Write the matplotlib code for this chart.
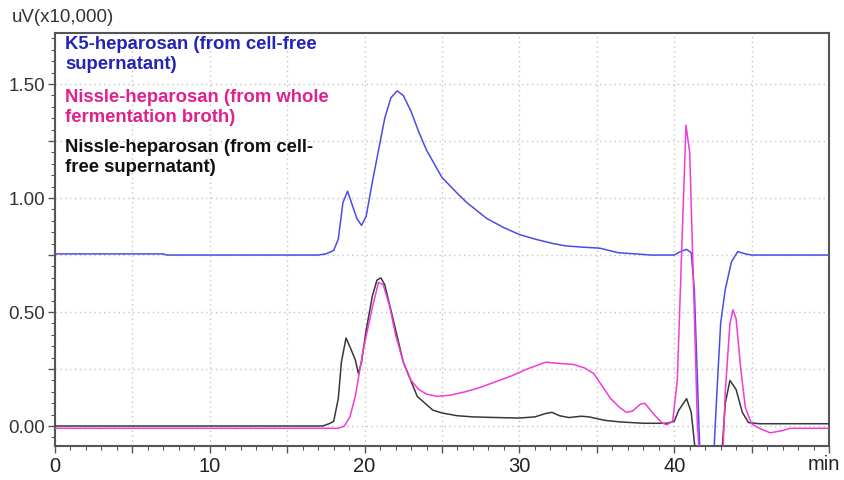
import matplotlib
matplotlib.use("Agg")
import matplotlib.pyplot as plt
from matplotlib.ticker import MultipleLocator, FuncFormatter

# retention time (min) / signal (uV x10,000)
k5_time = [0, 7, 7.2, 17.0, 17.5, 18.0, 18.3, 18.6, 18.9, 19.2, 19.5, 19.8, 20.1, 20.5, 20.9,
           21.3, 21.7, 22.1, 22.5, 23.0, 23.5, 24.0, 24.5, 25.0, 26.0, 26.6, 27.9, 29.0,
           30.0, 31.0, 32.2, 33.0, 34.0, 35.2, 36.4, 37.5, 38.5, 40.0, 40.4, 40.8, 41.1,
           41.3, 41.5, 41.7, 42.5, 42.8, 43.0, 43.3, 43.7, 44.1, 44.6, 45.0, 50.0]
k5_signal = [0.755, 0.755, 0.75, 0.75, 0.755, 0.77, 0.82, 0.98, 1.03, 0.97, 0.91, 0.88, 0.92,
             1.07, 1.21, 1.35, 1.44, 1.47, 1.45, 1.38, 1.29, 1.21, 1.15, 1.09, 1.02, 0.98,
             0.91, 0.87, 0.84, 0.82, 0.80, 0.79, 0.785, 0.78, 0.76, 0.755, 0.75, 0.75, 0.765,
             0.775, 0.76, 0.60, 0.20, -0.20, -0.20, 0.20, 0.45, 0.60, 0.72, 0.765, 0.755,
             0.75, 0.75]

broth_time = [0, 18.3, 18.7, 19.05, 19.4, 19.9, 20.5, 20.9, 21.2, 21.6, 22.0, 22.5, 23.0,
              23.5, 24.0, 24.7, 25.5, 26.5, 27.5, 28.5, 29.5, 30.5, 31.3, 31.7, 32.5, 33.5,
              34.2, 34.8, 35.2, 35.9, 36.5, 36.9, 37.3, 37.8, 38.1, 38.7, 39.2, 39.5, 39.9,
              40.2, 40.5, 40.76, 41.0, 41.3, 41.5, 41.7, 43.1, 43.3, 43.6, 43.8, 44.0, 44.3,
              44.6, 45.0, 45.5, 46.2, 47.0, 47.5, 50.0]
broth_signal = [-0.01, -0.01, 0.0, 0.04, 0.13, 0.33, 0.52, 0.63, 0.62, 0.53, 0.40, 0.28,
                0.20, 0.16, 0.14, 0.13, 0.135, 0.15, 0.17, 0.195, 0.22, 0.25, 0.27, 0.28,
                0.275, 0.27, 0.255, 0.23, 0.19, 0.12, 0.08, 0.06, 0.065, 0.095, 0.10, 0.05,
                0.015, 0.005, 0.02, 0.20, 0.80, 1.32, 1.20, 0.50, 0.0, -0.20, -0.20, 0.15,
                0.45, 0.51, 0.47, 0.25, 0.08, 0.01, -0.01, -0.03, -0.02, -0.01, -0.01]

sup_time = [0, 17.3, 17.7, 18.0, 18.3, 18.5, 18.8, 19.1, 19.4, 19.6, 19.8, 20.1, 20.5,
            20.8, 21.05, 21.3, 21.8, 22.5, 23.4, 24.4, 25.0, 26.0, 27.0, 28.0, 30.0, 31.0,
            31.7, 32.1, 32.6, 33.2, 34.0, 34.5, 35.5, 36.5, 38.0, 39.5, 40.0, 40.3, 40.8,
            41.1, 41.5, 43.0, 43.3, 43.6, 44.0, 44.4, 44.8, 45.5, 50.0]
sup_signal = [0.0, 0.0, 0.01, 0.02, 0.12, 0.28, 0.386, 0.34, 0.29, 0.23, 0.28, 0.42, 0.57,
              0.64, 0.65, 0.62, 0.48, 0.28, 0.13, 0.07, 0.057, 0.045, 0.04, 0.038, 0.035,
              0.04, 0.055, 0.06, 0.045, 0.037, 0.043, 0.04, 0.025, 0.018, 0.012, 0.012, 0.02,
              0.07, 0.12, 0.06, -0.20, -0.20, 0.10, 0.20, 0.16, 0.06, 0.015, 0.01, 0.01]

labels = ["K5-heparosan (from cell-free\nsupernatant)",
          "Nissle-heparosan (from whole\nfermentation broth)",
          "Nissle-heparosan (from cell-\nfree supernatant)"]

plt.rcParams['font.family'] = ['Liberation Sans', 'DejaVu Sans']

fig = plt.figure(figsize=(8.45, 4.8), dpi=100)
ax = fig.add_axes([55 / 845, 1 - 446 / 480, 774 / 845, 413 / 480])

ax.plot(k5_time, k5_signal, color='#4b4be6', lw=1.1, zorder=3)
ax.plot(sup_time, sup_signal, color='#383838', lw=1.1, zorder=3)
ax.plot(broth_time, broth_signal, color='#f03cd8', lw=1.1, zorder=4)

ax.set_xlim(0, 50)
ax.set_ylim(-0.0877, 1.724)

ax.xaxis.set_major_locator(MultipleLocator(5))
ax.xaxis.set_minor_locator(MultipleLocator(1))
ax.yaxis.set_major_locator(MultipleLocator(0.25))
ax.yaxis.set_minor_locator(MultipleLocator(0.05))
# only every 10 min is labelled, and the last tick gives way to "min"
ax.xaxis.set_major_formatter(FuncFormatter(
    lambda v, p: f"{v:.0f}" if round(v) % 10 == 0 and v < 49 else ""))
ax.yaxis.set_major_formatter(FuncFormatter(
    lambda v, p: f"{v:.2f}" if abs(v * 2 - round(v * 2)) < 1e-6 else ""))

ax.grid(True, which='major', color='#c4c4c4', linestyle=(0, (1, 2.5)), lw=1.0, zorder=1)
ax.tick_params(axis='both', which='both', direction='out', color='#555555')
ax.tick_params(which='major', length=5, width=1)
ax.tick_params(which='minor', length=3, width=0.8)
ax.tick_params(axis='x', labelsize=14.5, labelcolor='#222222', pad=3)
ax.tick_params(axis='y', labelsize=13.5, labelcolor='#333333', pad=2)
for s in ax.spines.values():
    s.set_color('#555555')
    s.set_linewidth(1.5)

fig.text(12 / 845, 1 - 17 / 480, "uV(x10,000)", fontsize=13.5, color='#333333', va='center')
fig.text(808 / 845, 1 - 465 / 480, "min", fontsize=14.5, color='#222222', va='center')

text_colors = ['#2323b8', '#e0208c', '#111111']
text_tops = [36, 89, 139]
for lab, c, top in zip(labels, text_colors, text_tops):
    fig.text(65 / 845, 1 - top / 480, lab, fontsize=13.3, fontweight='bold', color=c,
             va='top', linespacing=1.25)

fig.savefig("out.png", dpi=100)
